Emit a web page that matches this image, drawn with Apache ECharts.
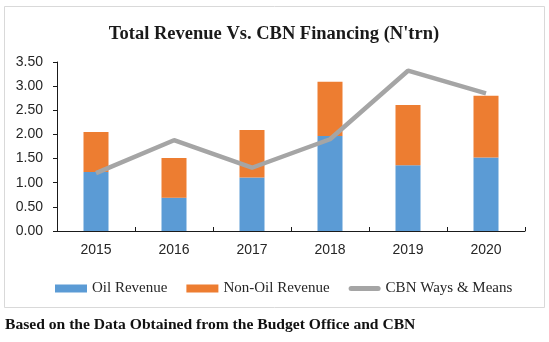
<!DOCTYPE html>
<html>
<head>
<meta charset="utf-8">
<script src="https://cdn.jsdelivr.net/npm/echarts@6/dist/echarts.min.js"></script>
<style>
  html, body { margin: 0; padding: 0; background: #fff; }
  #chart { width: 549px; height: 342px; }
</style>
</head>
<body>
<div id="chart"></div>
<script>
// Years on the category axis
const years = ['2015', '2016', '2017', '2018', '2019', '2020'];
// Revenue components (N' trillion), stacked
const oilRevenue = [1.22, 0.69, 1.11, 1.97, 1.36, 1.52];
const nonOilRevenue = [0.83, 0.82, 0.98, 1.12, 1.25, 1.28];
// CBN Ways & Means financing (N' trillion)
const cbnWaysMeans = [1.20, 1.88, 1.31, 1.90, 3.32, 2.85];
// Value axis ticks
const yTicks = [0, 0.5, 1.0, 1.5, 2.0, 2.5, 3.0, 3.5];

const serif = '"Liberation Serif", "DejaVu Serif", serif';
const sans = '"Liberation Sans", Arial, sans-serif';

// Thick rounded stroke used as the legend key of the line series
const lineKeyIcon = 'path://M2.5,0 L29.5,0 A2.5,2.5 0 0 1 29.5,5 L2.5,5 A2.5,2.5 0 0 1 2.5,0 Z';

const chart = echarts.init(document.getElementById('chart'), null, { renderer: 'canvas' });

chart.setOption({
  animation: false,
  backgroundColor: '#ffffff',
  title: {
    text: "Total Revenue Vs. CBN Financing (N'trn)",
    left: 269,
    textAlign: 'center',
    top: 20,
    textStyle: { fontFamily: serif, fontWeight: 'bold', fontSize: 18.5, color: '#1a1a1a' }
  },
  graphic: [
    {
      type: 'rect',
      shape: { x: 4.5, y: 6.5, width: 540, height: 301 },
      style: { fill: 'none', stroke: '#d9d9d9', lineWidth: 1 },
      silent: true,
      z: -1
    },
    {
      type: 'text',
      left: 5,
      top: 317,
      style: {
        text: 'Based on the Data Obtained from the Budget Office and CBN',
        font: 'bold 15.6px ' + serif,
        fill: '#111'
      }
    }
  ],
  grid: { left: 57, top: 62, width: 468, height: 169, containLabel: false },
  legend: {
    left: 50,
    top: 276,
    itemWidth: 32,
    itemHeight: 8,
    itemGap: 19,
    symbolKeepAspect: true,
    textStyle: { fontFamily: serif, fontSize: 15, color: '#262626' },
    data: [
      { name: 'Oil Revenue', icon: 'rect' },
      { name: 'Non-Oil Revenue', icon: 'rect' },
      { name: 'CBN Ways & Means', icon: lineKeyIcon, itemStyle: { color: '#a5a5a5' } }
    ]
  },
  xAxis: {
    type: 'category',
    data: years,
    axisLine: { lineStyle: { color: '#1a1a1a', width: 1 } },
    axisTick: { show: true, inside: true, length: 4, lineStyle: { color: '#1a1a1a' } },
    axisLabel: { fontFamily: sans, fontSize: 14, color: '#262626', margin: 12 },
    splitLine: { show: false }
  },
  yAxis: {
    type: 'value',
    min: yTicks[0],
    max: yTicks[yTicks.length - 1],
    interval: 0.5,
    axisLine: { show: true, lineStyle: { color: '#1a1a1a', width: 1 } },
    axisTick: { show: true, inside: false, length: 4, lineStyle: { color: '#1a1a1a' } },
    axisLabel: {
      fontFamily: sans, fontSize: 14, color: '#262626', margin: 14,
      formatter: v => v.toFixed(2)
    },
    splitLine: { show: false }
  },
  series: [
    {
      name: 'Oil Revenue',
      type: 'bar',
      stack: 'revenue',
      barWidth: 25,
      itemStyle: { color: '#5b9bd5' },
      data: oilRevenue
    },
    {
      name: 'Non-Oil Revenue',
      type: 'bar',
      stack: 'revenue',
      barWidth: 25,
      itemStyle: { color: '#ed7d31' },
      data: nonOilRevenue
    },
    {
      name: 'CBN Ways & Means',
      type: 'line',
      symbol: 'none',
      lineStyle: { color: '#a5a5a5', width: 4.5 },
      itemStyle: { color: '#a5a5a5' },
      data: cbnWaysMeans,
      z: 3
    }
  ]
});
</script>
</body>
</html>
